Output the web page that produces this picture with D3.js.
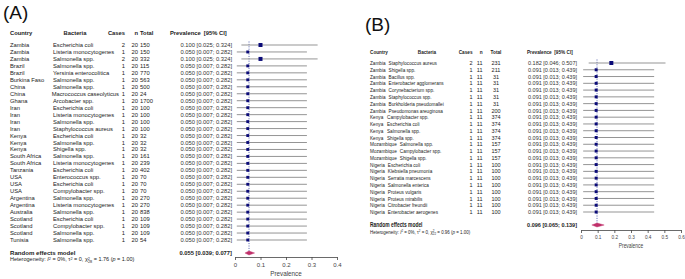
<!DOCTYPE html>
<html>
<head>
<meta charset="utf-8">
<script src="https://cdn.jsdelivr.net/npm/d3@7"></script>
<style>
  body { margin: 0; background: #fff; }
  svg { display: block; }
  text { font-family: "Liberation Sans", Arial, sans-serif; fill: #222; white-space: pre; }
</style>
</head>
<body>
<div id="chart"></div>
<script>
// ---- data: panel A ----
const countriesA = ["Zambia","Zambia","Zambia","Brazil","Brazil","Burkina Faso","China","China","Ghana",
  "Iran","Iran","Iran","Iran","Kenya","Kenya","Kenya","South Africa","South Africa","Tanzania",
  "USA","USA","USA","Argentina","Argentina","Australia","Scotland","Scotland","Scotland","Tunisia"];
const bacteriaA = ["Escherichia coli","Listeria monocytogenes","Salmonella spp.","Salmonella spp.",
  "Yersinia enterocolitica","Salmonella spp.","Salmonella spp.","Macrococcus caseolyticus","Arcobacter spp.",
  "Escherichia coli","Listeria monocytogenes","Salmonella spp.","Staphylococcus aureus","Escherichia coli",
  "Salmonella spp.","Shigella spp.","Salmonella spp.","Listeria monocytogenes","Escherichia coli",
  "Enterococcus spp.","Escherichia coli","Compylobacter spp.","Salmonella spp.","Listeria monocytogenes",
  "Salmonella spp.","Escherichia coli","Compylobacter spp.","Salmonella spp.","Salmonella spp."];
const casesA = [2,1,2,1,1,1,1,1,1,1,1,1,1,1,1,1,1,1,1,1,1,1,1,1,1,1,1,1,1];
const nA = [20,20,20,20,20,20,20,20,20,20,20,20,20,20,20,20,20,20,20,20,20,20,20,20,20,20,20,20,20];
const totalA = [150,150,332,115,770,563,500,24,1700,100,100,100,100,32,32,32,161,239,402,70,70,70,270,270,838,109,109,109,54];
const prevA = [0.100,0.050,0.100,0.050,0.050,0.050,0.050,0.050,0.050,0.050,0.050,0.050,0.050,0.050,0.050,
  0.050,0.050,0.050,0.050,0.050,0.050,0.050,0.050,0.050,0.050,0.050,0.050,0.050,0.050];
const lowA = [0.025,0.007,0.025,0.007,0.007,0.007,0.007,0.007,0.007,0.007,0.007,0.007,0.007,0.007,0.007,
  0.007,0.007,0.007,0.007,0.007,0.007,0.007,0.007,0.007,0.007,0.007,0.007,0.007,0.007];
const highA = [0.324,0.282,0.324,0.282,0.282,0.282,0.282,0.282,0.282,0.282,0.282,0.282,0.282,0.282,0.282,
  0.282,0.282,0.282,0.282,0.282,0.282,0.282,0.282,0.282,0.282,0.282,0.282,0.282,0.282];
const pooledA = [0.055, 0.039, 0.077];
const hetA = { i2: "0%", tau2: "0", df: 28, chi2: "1.76", p: "1.00" };
const ticksA = [0, 0.1, 0.2, 0.3, 0.4];

// ---- data: panel B ----
const countriesB = ["Zambia","Zambia","Zambia","Zambia","Zambia","Zambia","Zambia","Zambia",
  "Kenya","Kenya","Kenya","Kenya","Mozambique","Mozambique","Mozambique",
  "Nigeria","Nigeria","Nigeria","Nigeria","Nigeria","Nigeria","Nigeria","Nigeria"];
const bacteriaB = ["Staphylococcus aureus","Shigella spp.","Bacillus spp.","Enterobacter agglomerans",
  "Corynebacterium spp.","Staphylococcus spp.","Burkholderia pseudomallei","Pseudomonas areuginosa",
  "Campylobacter spp.","Escherichia coli","Salmonella spp.","Shigella spp.","Salmonella spp.",
  "Campylobacter spp.","Shigella spp.","Escherichia coli","Klebsiella pneumonia","Serratia marcescens",
  "Salmonella enterica","Proteus vulgaris","Proteus mirabilis","Citrobacter freundii","Enterobacter aerogenes"];
const casesB = [2,1,1,1,1,1,1,1,1,1,1,1,1,1,1,1,1,1,1,1,1,1,1];
const nB = [11,11,11,11,11,11,11,11,11,11,11,11,11,11,11,11,11,11,11,11,11,11,11];
const totalB = [231,211,31,31,31,31,31,200,374,374,374,374,157,157,157,100,100,100,100,100,100,100,100];
const prevB = [0.182,0.091,0.091,0.091,0.091,0.091,0.091,0.091,0.091,0.091,0.091,0.091,0.091,0.091,0.091,
  0.091,0.091,0.091,0.091,0.091,0.091,0.091,0.091];
const lowB = [0.046,0.013,0.013,0.013,0.013,0.013,0.013,0.013,0.013,0.013,0.013,0.013,0.013,0.013,0.013,
  0.013,0.013,0.013,0.013,0.013,0.013,0.013,0.013];
const highB = [0.507,0.439,0.439,0.439,0.439,0.439,0.439,0.439,0.439,0.439,0.439,0.439,0.439,0.439,0.439,
  0.439,0.439,0.439,0.439,0.439,0.439,0.439,0.439];
const pooledB = [0.096, 0.065, 0.139];
const hetB = { i2: "0%", tau2: "0", df: 22, chi2: "0.96", p: "1.00" };
const ticksB = [0, 0.1, 0.2, 0.3, 0.4, 0.5, 0.6];

const svg = d3.select("#chart").append("svg")
  .attr("width", 685)
  .attr("height", 279);

const fmt = d3.format(".3f");

// text helper, sq squeezes glyphs horizontally
function txt(g, x, y, s, o = {}) {
  const sq = o.sq || 1;
  return g.append("text")
    .attr("transform", `translate(${x},${y}) scale(${sq},1)`)
    .attr("dy", "0.35em")
    .attr("text-anchor", o.anchor || "start")
    .attr("font-size", (o.size || 5.8) + "px")
    .attr("font-weight", o.bold ? "bold" : null)
    .text(s);
}

function drawForest(d, L) {
  const g = svg.append("g");
  const k = d.country.length;

  const x = d3.scaleLinear().domain(L.domain).range(L.xRange);
  const y = d3.scalePoint().domain(d3.range(k)).range([L.yFirst, L.yLast]);
  // weights (binomial information) -> square size
  const w = d.cases.map((c, i) => d.n[i] * (c / d.n[i]) * (1 - c / d.n[i]));
  const sz = d3.scaleSqrt().domain([0, d3.max(w)]).range([0, L.boxMax]);

  // panel label
  g.append("text")
    .attr("x", L.labelX).attr("y", L.labelY)
    .attr("font-family", "'Liberation Serif', 'Times New Roman', serif")
    .attr("font-size", "19px")
    .style("fill", "#111")
    .text(L.label);

  // header
  const hs = L.fs;
  txt(g, L.colCountry, L.yHead, "Country", { bold: true, size: hs, sq: L.sq });
  txt(g, L.bactHead, L.yHead, "Bacteria", { bold: true, size: hs, anchor: "middle", sq: L.sq });
  txt(g, L.colCases, L.yHead, "Cases", { bold: true, size: hs, anchor: "end", sq: L.sq });
  txt(g, L.colN, L.yHead, "n", { bold: true, size: hs, anchor: "end", sq: L.sq });
  txt(g, L.colTotal, L.yHead, "Total", { bold: true, size: hs, anchor: L.totalAnchor, sq: L.sq });
  txt(g, L.colPrevHead, L.yHead, "Prevalence  [95% CI]", { bold: true, size: hs, sq: L.sq });

  // rows
  for (let i = 0; i < k; i++) {
    const yy = y(i);
    const c = txt(g, L.colCountry, yy, d.country[i], { size: L.fs, sq: L.sq });
    const cEnd = L.colCountry + c.node().getComputedTextLength() * L.sq;
    const b = txt(g, 0, yy, d.bacteria[i], { size: L.fs, sq: L.sq });
    const bw = b.node().getComputedTextLength() * L.sq;
    let bx = Math.max(L.colBact, cEnd + L.gap);
    bx = Math.min(bx, L.colCases - 6 - bw);
    b.attr("transform", `translate(${bx},${yy}) scale(${L.sq},1)`);
    txt(g, L.colCases, yy, d.cases[i], { size: L.fs, anchor: "end", sq: L.vsq });
    txt(g, L.colN, yy, d.n[i], { size: L.fs, anchor: "end", sq: L.vsq });
    txt(g, L.colTotal, yy, d.total[i], { size: L.fs, anchor: L.totalAnchor, sq: L.vsq });
    txt(g, L.colVal, yy, `${fmt(d.prev[i])} [${fmt(d.low[i])}; ${fmt(d.high[i])}]`,
      { size: L.fs, anchor: "end", sq: L.vsq }).style("fill", "#333");
  }

  // pooled estimate reference line (dotted)
  g.append("line")
    .attr("x1", x(d.pooled[0])).attr("x2", x(d.pooled[0]))
    .attr("y1", L.yFirst - 3.5).attr("y2", L.yRE)
    .attr("stroke", "#2b3a9a")
    .attr("stroke-width", 0.8)
    .attr("stroke-dasharray", "1,1.4");

  // CI lines
  g.selectAll(".ci").data(d3.range(k)).join("line")
    .attr("class", "ci")
    .attr("x1", i => x(d.low[i])).attr("x2", i => x(d.high[i]))
    .attr("y1", i => y(i)).attr("y2", i => y(i))
    .attr("stroke", "#959595")
    .attr("stroke-width", 1);

  // squares
  g.selectAll(".box").data(d3.range(k)).join("rect")
    .attr("class", "box")
    .attr("x", i => x(d.prev[i]) - sz(w[i]) / 2)
    .attr("y", i => y(i) - sz(w[i]) / 2)
    .attr("width", i => sz(w[i]))
    .attr("height", i => sz(w[i]))
    .attr("fill", "#0b0b78");

  // pooled diamond
  const [pe, pl, ph] = d.pooled;
  g.append("path")
    .attr("d", `M${x(pl)},${L.yRE} L${x(pe)},${L.yRE - 2} L${x(ph)},${L.yRE} L${x(pe)},${L.yRE + 2} Z`)
    .attr("fill", "#c0306a")
    .attr("stroke", "#c0306a")
    .attr("stroke-width", 0.4);

  txt(g, L.colCountry, L.yRE, "Random effects model", { bold: true, size: L.fs + 0.3, sq: L.sq });
  txt(g, L.colVal, L.yRE, `${fmt(pe)} [${fmt(pl)}; ${fmt(ph)}]`, { bold: true, size: L.fs, anchor: "end", sq: L.vsq });

  // heterogeneity line
  const h = g.append("text")
    .attr("transform", `translate(${L.colCountry},${L.yHet}) scale(${L.sq},1)`)
    .attr("dy", "0.35em")
    .attr("font-size", (L.fs - 0.3) + "px");
  h.append("tspan").text("Heterogeneity: ");
  h.append("tspan").attr("font-style", "italic").text("I");
  h.append("tspan").attr("dy", -1.8).attr("font-size", "3.8px").text("2");
  h.append("tspan").attr("dy", 1.8).text(` = ${d.het.i2}, \u03c4`);
  h.append("tspan").attr("dy", -1.8).attr("font-size", "3.8px").text("2");
  h.append("tspan").attr("dy", 1.8).text(` = ${d.het.tau2}, \u03c7`);
  h.append("tspan").attr("dy", -1.8).attr("font-size", "3.8px").text("2");
  h.append("tspan").attr("dx", -2).attr("dy", 3.6).attr("font-size", "3.8px").text(d.het.df);
  h.append("tspan").attr("dy", -1.8).text(` = ${d.het.chi2} (`);
  h.append("tspan").attr("font-style", "italic").text("p");
  h.append("tspan").text(` = ${d.het.p})`);

  // x axis
  const ax = g.append("g")
    .attr("transform", `translate(0,${L.yAxis})`)
    .call(d3.axisBottom(x).tickValues(d.ticks).tickFormat(v => v === 0 ? "0" : v)
      .tickSize(3).tickSizeOuter(0));
  ax.select(".domain").attr("stroke", "#444").attr("stroke-width", 0.8);
  ax.selectAll(".tick line").attr("stroke", "#444").attr("stroke-width", 0.8);
  ax.selectAll(".tick text")
    .attr("font-family", "'Liberation Sans', Arial, sans-serif")
    .attr("font-size", "6px")
    .attr("y", L.tickLabelOff)
    .attr("transform", `scale(${L.sq},1)`)
    .style("fill", "#444");

  g.append("text")
    .attr("transform", `translate(${(L.xRange[0] + L.xRange[1]) / 2},${L.yXLabel}) scale(${L.sq},1)`)
    .attr("text-anchor", "middle")
    .attr("font-size", "6.3px")
    .style("fill", "#444")
    .text("Prevalence");
}

drawForest(
  { country: countriesA, bacteria: bacteriaA, cases: casesA, n: nA, total: totalA,
    prev: prevA, low: lowA, high: highA, pooled: pooledA, het: hetA, ticks: ticksA },
  { label: "(A)", labelX: 3, labelY: 19, fs: 5.8, sq: 1, vsq: 1, gap: 2,
    yHead: 33, yFirst: 45, yLast: 240, yRE: 253, yHet: 259.5, yAxis: 257, tickLabelOff: 6, yXLabel: 276,
    colCountry: 10, colBact: 53, bactHead: 75, colCases: 125, colN: 138, colTotal: 140, totalAnchor: "start",
    colPrevHead: 170, colVal: 232, domain: [0, 0.4], xRange: [235, 337], boxMax: 4 }
);

drawForest(
  { country: countriesB, bacteria: bacteriaB, cases: casesB, n: nB, total: totalB,
    prev: prevB, low: lowB, high: highB, pooled: pooledB, het: hetB, ticks: ticksB },
  { label: "(B)", labelX: 365, labelY: 31, fs: 6.0, sq: 0.78, vsq: 0.92, gap: 3,
    yHead: 52, yFirst: 63, yLast: 212, yRE: 225, yHet: 231.5, yAxis: 230, tickLabelOff: 5, yXLabel: 248,
    colCountry: 370, colBact: 387, bactHead: 427, colCases: 472.5, colN: 482.5, colTotal: 496, totalAnchor: "middle",
    colPrevHead: 527, colVal: 577, domain: [0, 0.6], xRange: [581, 681], boxMax: 4 }
);
</script>
</body>
</html>
